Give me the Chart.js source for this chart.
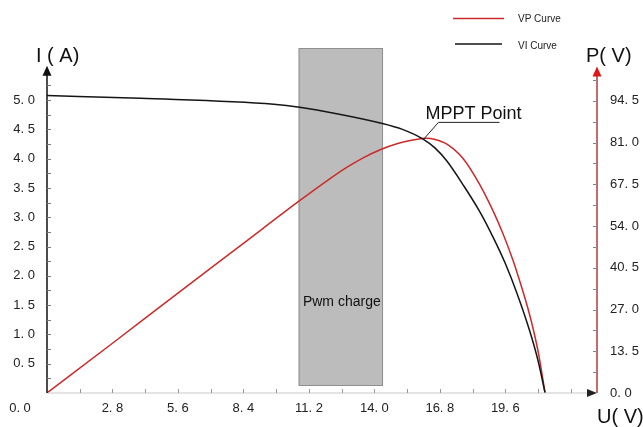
<!DOCTYPE html>
<html>
<head>
<meta charset="utf-8">
<script src="https://cdn.jsdelivr.net/npm/chart.js@4.4.0/dist/chart.umd.min.js"></script>
<style>
  html, body { margin: 0; padding: 0; background: #fff; }
</style>
</head>
<body>
<canvas id="grafico" width="643" height="427"></canvas>
<script>
// --- dados ---
// curva V-I (tensão em V, corrente em A)
const viVoltage = [0, 4.0, 9.7, 10.8, 12.5, 14.25, 15.2, 16.1, 16.6, 17.1, 17.8, 18.5, 19.1, 19.6, 20.1, 20.65, 21.0, 21.3];
const viCurrent = [5.08, 5.03, 4.93, 4.88, 4.76, 4.61, 4.50, 4.33, 4.18, 3.96, 3.55, 3.10, 2.64, 2.21, 1.70, 1.05, 0.55, 0];
// curva V-P (potência em W)
const vpVoltage = [0, 2.8, 5.6, 8.4, 10.8, 12.0, 12.8, 13.5, 14.25, 15.0, 15.7, 16.2, 16.6, 17.1, 17.8, 18.5, 19.1, 19.5, 19.9, 20.1, 20.65, 21.0, 21.3];
const vpPower = [0, 16.1, 32.3, 48.4, 62.2, 68.8, 72.9, 76.0, 78.7, 80.7, 81.9, 82.4, 82.0, 80.5, 75.8, 67.5, 58.5, 51.5, 43.5, 39.0, 25.0, 13.5, 0];

// eixos
const xTickValues = [2.8, 5.6, 8.4, 11.2, 14.0, 16.8, 19.6];
const xTickLabels = ['2. 8', '5. 6', '8. 4', '11. 2', '14. 0', '16. 8', '19. 6'];
const iTickValues = [0.5, 1.0, 1.5, 2.0, 2.5, 3.0, 3.5, 4.0, 4.5, 5.0];
const iTickLabels = ['0. 5', '1. 0', '1. 5', '2. 0', '2. 5', '3. 0', '3. 5', '4. 0', '4. 5', '5. 0'];
const pTickValues = [0, 13.5, 27, 40.5, 54, 67.5, 81, 94.5];
const pTickLabels = ['0. 0', '13. 5', '27. 0', '40. 5', '54. 0', '67. 5', '81. 0', '94. 5'];

// faixa PWM e ponto MPPT
const pwmRange = [10.76, 14.37];
const pwmBottom = 0.12;
const mpptPoint = { v: 16.1, i: 4.33 };

const RED = '#cc2a2a';

function pontos(xs, ys) {
    return xs.map((x, k) => ({ x: x, y: ys[k] }));
}

function seta(ctx, x, y, dir, cor) {
    // ponta da seta em (x, y)
    ctx.fillStyle = cor;
    ctx.beginPath();
    if (dir === 'up') {
        ctx.moveTo(x, y); ctx.lineTo(x - 4.5, y + 10); ctx.lineTo(x + 4.5, y + 10);
    } else {
        ctx.moveTo(x, y); ctx.lineTo(x - 10, y - 4); ctx.lineTo(x - 10, y + 4);
    }
    ctx.closePath();
    ctx.fill();
}

const desenhoExtra = {
    id: 'desenhoExtra',
    beforeDatasetsDraw(chart) {
        const { ctx, chartArea, scales } = chart;
        const x0 = scales.x.getPixelForValue(pwmRange[0]);
        const x1 = scales.x.getPixelForValue(pwmRange[1]);
        const yb = scales.yI.getPixelForValue(pwmBottom);
        ctx.save();
        ctx.fillStyle = '#bcbcbc';
        ctx.strokeStyle = '#8f8f8f';
        ctx.lineWidth = 1;
        ctx.fillRect(x0, chartArea.top, x1 - x0, yb - chartArea.top);
        ctx.strokeRect(x0 + 0.5, chartArea.top + 0.5, x1 - x0 - 1, yb - chartArea.top - 1);
        ctx.fillStyle = '#111';
        ctx.font = '14px "Liberation Sans", Arial, sans-serif';
        ctx.textAlign = 'center';
        ctx.textBaseline = 'middle';
        ctx.fillText('Pwm charge', (x0 + x1) / 2 + 1, scales.yI.getPixelForValue(1.55));
        ctx.restore();
    },
    afterDatasetsDraw(chart) {
        const { ctx, chartArea, scales } = chart;
        const xs = scales.x, yI = scales.yI, yP = scales.yP;
        const base = yI.getPixelForValue(0);
        ctx.save();

        // eixo X
        ctx.strokeStyle = '#c9c9c9';
        ctx.lineWidth = 1.2;
        ctx.beginPath();
        ctx.moveTo(chartArea.left, base);
        ctx.lineTo(chartArea.right - 8, base);
        ctx.stroke();
        seta(ctx, chartArea.right, base, 'right', '#222');
        ctx.strokeStyle = '#999';
        ctx.lineWidth = 1;
        for (let v = 1.4; v < 23; v += 1.4) {
            const px = Math.round(xs.getPixelForValue(v)) + 0.5;
            ctx.beginPath();
            ctx.moveTo(px, base);
            ctx.lineTo(px, base - 4);
            ctx.stroke();
        }

        // eixo I (esquerda)
        const topoI = yI.getPixelForValue(5.5);
        ctx.strokeStyle = '#111';
        ctx.lineWidth = 1.5;
        ctx.beginPath();
        ctx.moveTo(chartArea.left, base);
        ctx.lineTo(chartArea.left, topoI);
        ctx.stroke();
        seta(ctx, chartArea.left, topoI - 5, 'up', '#111');
        ctx.strokeStyle = '#777';
        ctx.lineWidth = 1;
        for (let v = 0.25; v <= 5.26; v += 0.25) {
            const py = Math.round(yI.getPixelForValue(v)) + 0.5;
            ctx.beginPath();
            ctx.moveTo(chartArea.left, py);
            ctx.lineTo(chartArea.left + 4, py);
            ctx.stroke();
        }

        // eixo P (direita)
        const topoP = yP.getPixelForValue(104);
        ctx.strokeStyle = '#b33a3a';
        ctx.lineWidth = 1.5;
        ctx.beginPath();
        ctx.moveTo(chartArea.right, base);
        ctx.lineTo(chartArea.right, topoP);
        ctx.stroke();
        seta(ctx, chartArea.right, topoP - 5, 'up', '#e01515');
        ctx.strokeStyle = '#888';
        ctx.lineWidth = 1;
        for (let v = 6.75; v <= 101.3; v += 6.75) {
            const py = Math.round(yP.getPixelForValue(v)) + 0.5;
            ctx.beginPath();
            ctx.moveTo(chartArea.right - 4, py);
            ctx.lineTo(chartArea.right, py);
            ctx.stroke();
        }

        // títulos dos eixos e o 0.0 do canto
        ctx.fillStyle = '#111';
        ctx.textBaseline = 'alphabetic';
        ctx.textAlign = 'left';
        ctx.font = '20px "Liberation Sans", Arial, sans-serif';
        ctx.fillText('I ( A)', 36, 62);
        ctx.fillText('P( V)', 586, 62);
        ctx.fillText('U( V)', 597, 423);
        ctx.fillStyle = '#222';
        ctx.font = '13px "Liberation Sans", Arial, sans-serif';
        ctx.textAlign = 'center';
        ctx.fillText('0. 0', chartArea.left - 27, base + 19);

        // MPPT Point
        const mx = xs.getPixelForValue(mpptPoint.v);
        const my = yI.getPixelForValue(mpptPoint.i);
        ctx.strokeStyle = '#222';
        ctx.lineWidth = 1;
        ctx.beginPath();
        ctx.moveTo(mx, my);
        ctx.lineTo(mx + 15, my - 17);
        ctx.lineTo(mx + 76, my - 17);
        ctx.stroke();
        ctx.fillStyle = '#111';
        ctx.textAlign = 'left';
        ctx.font = '18px "Liberation Sans", Arial, sans-serif';
        ctx.fillText('MPPT Point', mx + 2, my - 20);

        // legenda
        const ds = chart.data.datasets;
        const linhas = [
            { y: 18.5, x0: 453, x1: 504, ty: 19 },
            { y: 44, x0: 455, x1: 502, ty: 46.5 }
        ];
        ctx.font = '10px "Liberation Sans", Arial, sans-serif';
        ctx.textBaseline = 'middle';
        [1, 0].forEach((k, n) => {
            const l = linhas[n];
            ctx.strokeStyle = ds[k].borderColor;
            ctx.lineWidth = 1.6;
            ctx.beginPath();
            ctx.moveTo(l.x0, l.y);
            ctx.lineTo(l.x1, l.y);
            ctx.stroke();
            ctx.fillStyle = '#222';
            ctx.fillText(ds[k].label, 518, l.ty);
        });
        ctx.restore();
    }
};

Chart.defaults.font.family = '"Liberation Sans", Arial, sans-serif';

const ctx = document.getElementById('grafico').getContext('2d');
new Chart(ctx, {
    type: 'scatter',
    data: {
        datasets: [{
            label: 'VI Curve',
            data: pontos(viVoltage, viCurrent),
            yAxisID: 'yI',
            showLine: true,
            borderColor: '#151515',
            borderWidth: 1.5,
            pointRadius: 0,
            cubicInterpolationMode: 'monotone'
        }, {
            label: 'VP Curve',
            data: pontos(vpVoltage, vpPower),
            yAxisID: 'yP',
            showLine: true,
            borderColor: RED,
            borderWidth: 1.5,
            pointRadius: 0,
            cubicInterpolationMode: 'monotone'
        }]
    },
    options: {
        responsive: false,
        animation: false,
        layout: { padding: { top: 48, left: 0, right: 0, bottom: 0 } },
        plugins: {
            legend: { display: false },
            tooltip: { enabled: false }
        },
        scales: {
            x: {
                type: 'linear',
                min: 0,
                max: 23.52,
                grid: { display: false, drawTicks: false },
                border: { display: false },
                afterBuildTicks: (s) => { s.ticks = xTickValues.map(v => ({ value: v })); },
                afterFit: (s) => { s.height = 34; },
                ticks: {
                    autoSkip: false,
                    maxRotation: 0,
                    padding: 8,
                    color: '#222',
                    font: { size: 13 },
                    callback: (v, k) => xTickLabels[k]
                }
            },
            yI: {
                position: 'left',
                min: 0,
                max: 5.89,
                grid: { display: false, drawTicks: false },
                border: { display: false },
                afterBuildTicks: (s) => { s.ticks = iTickValues.map(v => ({ value: v })); },
                afterFit: (s) => { s.width = 47; },
                ticks: {
                    autoSkip: false,
                    padding: 12,
                    color: '#222',
                    font: { size: 13 },
                    callback: (v, k) => iTickLabels[k]
                }
            },
            yP: {
                position: 'right',
                min: 0,
                max: 111.6,
                grid: { display: false, drawTicks: false },
                border: { display: false },
                afterBuildTicks: (s) => { s.ticks = pTickValues.map(v => ({ value: v })); },
                afterFit: (s) => { s.width = 46; },
                ticks: {
                    autoSkip: false,
                    padding: 13,
                    color: '#222',
                    font: { size: 13 },
                    callback: (v, k) => pTickLabels[k]
                }
            }
        }
    },
    plugins: [desenhoExtra]
});
</script>
</body>
</html>
